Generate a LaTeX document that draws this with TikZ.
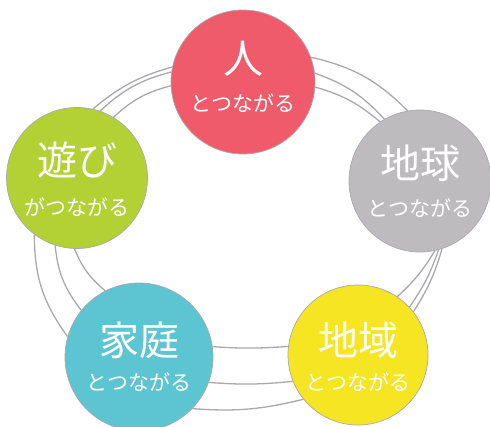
\documentclass[tikz,border=0pt]{standalone}
\usepackage{fontspec}
\newfontfamily\jp{Noto Sans CJK JP}
\usetikzlibrary{backgrounds}

\definecolor{hitocol}{HTML}{EF5B6A}
\definecolor{chikyucol}{HTML}{BDBBBE}
\definecolor{chiikicol}{HTML}{F5E523}
\definecolor{kateicol}{HTML}{5DC4D2}
\definecolor{asobicol}{HTML}{B3D135}
\definecolor{ringcol}{HTML}{A9A9AD}

\begin{document}
\begin{tikzpicture}[x = 1pt, y = 1pt,
    ball/.style = {circle, draw = ringcol, line width = 0.7, inner sep = 0, minimum size = #1},
    big/.style = {white, font = \jp\fontsize{40}{42}\selectfont},
    small/.style = {white, font = \jp\fontsize{21}{23}\selectfont},
    ring/.style = {ringcol, line width = 1.3}]

    \useasboundingbox (0, 0) rectangle (490, 426);

% The five balls.
    \node [ball = 144pt, fill = hitocol] (hito) at (243, 344) {};
    \node [ball = 142pt, fill = chikyucol] (chikyu) at (420, 245) {};
    \node [ball = 140pt, fill = chiikicol] (chiiki) at (358, 71) {};
    \node [ball = 148pt, fill = kateicol] (katei) at (139, 69) {};
    \node [ball = 141pt, fill = asobicol] (asobi) at (77, 248) {};

    \node [big] (hito-a) at ([yshift = 23]hito.center) {人};
    \node [small] (hito-b) at ([yshift = -21]hito.center) {とつながる};
    \node [big] (chikyu-a) at ([yshift = 18]chikyu.center) {地球};
    \node [small] (chikyu-b) at ([yshift = -27]chikyu.center) {とつながる};
    \node [big] (chiiki-a) at ([yshift = 15]chiiki.center) {地域};
    \node [small] (chiiki-b) at ([yshift = -27]chiiki.center) {とつながる};
    \node [big] (katei-a) at ([yshift = 17]katei.center) {家庭};
    \node [small] (katei-b) at ([yshift = -25]katei.center) {とつながる};
    \node [big] (asobi-a) at ([yshift = 18]asobi.center) {遊び};
    \node [small] (asobi-b) at ([yshift = -29]asobi.center) {がつながる};

% The rings run behind the balls.
    \begin{scope}[on background layer]
        \draw [ring] (hito.168) to [bend right = 12] (asobi.77);
        \draw [ring] (hito.172) to [bend right = 14] (asobi.71);
        \draw [ring] (hito.183) to [bend right = 14] (asobi.59);

        \draw [ring] (hito.20) to [bend left = 16] (chikyu.100);
        \draw [ring] (hito.7) to [bend left = 14] (chikyu.120);
        \draw [ring] (hito.-4) to [bend left = 12] (chikyu.124);

        \draw [ring] (asobi.233) to [bend right = 18] (katei.164);
        \draw [ring] (asobi.252) to [bend right = 16] (katei.141);
        \draw [ring] (asobi.268) to [bend right = 14] (katei.117);

        \draw [ring] (katei.8) to [bend right = 4] (chiiki.173);
        \draw [ring] (katei.-20) to [bend right = 5] (chiiki.202);
        \draw [ring] (katei.-44) to [bend right = 9] (chiiki.219);

        \draw [ring] (chikyu.282) to [bend left = 8] (chiiki.56);
        \draw [ring] (chikyu.285) to [bend left = 8] (chiiki.43);
        \draw [ring] (chikyu.288) to [bend left = 8] (chiiki.38);
    \end{scope}
\end{tikzpicture}
\end{document}
